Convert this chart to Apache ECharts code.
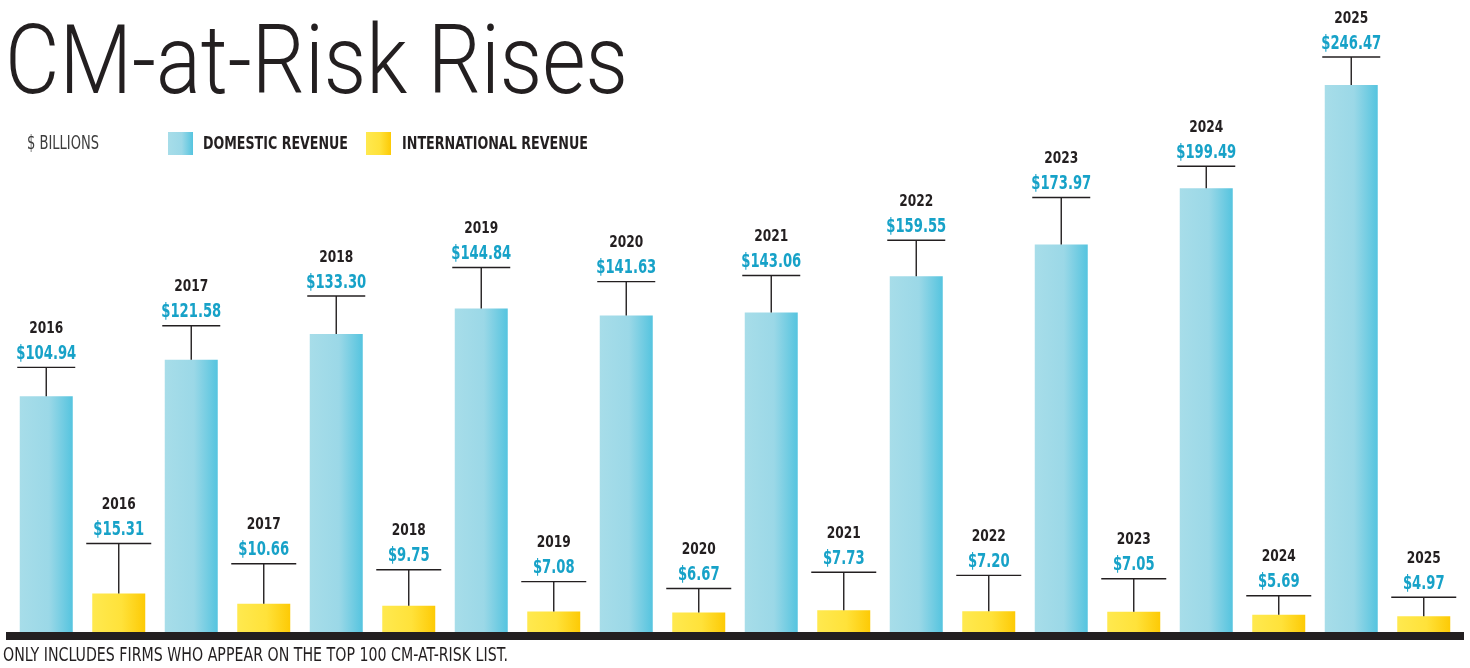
<!DOCTYPE html>
<html><head><meta charset="utf-8">
<script src="https://cdn.jsdelivr.net/npm/echarts@6/dist/echarts.min.js"></script>
<style>html,body{margin:0;padding:0;background:#fff;}#c{width:1470px;height:668px;}</style>
</head><body><div id="c"></div>
<script>
// ---- data ----
const years = ['2016','2017','2018','2019','2020','2021','2022','2023','2024','2025'];
const domestic = [104.94,121.58,133.30,144.84,141.63,143.06,159.55,173.97,199.49,246.47];
const international = [15.31,10.66,9.75,7.08,6.67,7.73,7.20,7.05,5.69,4.97];
const seriesNames = ['DOMESTIC REVENUE','INTERNATIONAL REVENUE'];
const titleText = 'CM-at-Risk Rises';
const unitText = '$ BILLIONS';
const footText = 'ONLY INCLUDES FIRMS WHO APPEAR ON THE TOP 100 CM-AT-RISK LIST.';

// ---- layout / style (leader-line lengths in px) ----
const leaderDomestic = [29,34,38,41,34,37,36,47,22,28];
const leaderInternational = [50,40,36,30,24,38,36,33,19,19];
const NARROW = "'Liberation Sans Narrow','Arial Narrow','DejaVu Sans Condensed',sans-serif";
const Y_MIN = -4, Y_MAX = 260;

const slots = [];
years.forEach(y => { slots.push(y + ' D'); slots.push(y + ' I'); });

const domGrad = new echarts.graphic.LinearGradient(0,0,1,0,[
  {offset:0,color:'#a7dde9'},{offset:0.55,color:'#9bd8e7'},{offset:1,color:'#55c4df'}]);
const intGrad = new echarts.graphic.LinearGradient(0,0,1,0,[
  {offset:0,color:'#ffe94f'},{offset:0.55,color:'#ffe23a'},{offset:1,color:'#fdca05'}]);

const measureCtx = document.createElement('canvas').getContext('2d');
function fitScale(text, font, target){
  measureCtx.font = font;
  return target / measureCtx.measureText(text).width;
}

const VAL_FONT = 'bold 19.5px ' + NARROW;
const YEAR_FONT = 'bold 16px ' + NARROW;
const valScale = fitScale('$104.94', VAL_FONT, 60);
const yearScale = fitScale('2016', YEAR_FONT, 34);

function makeRender(kind){
  const grad = kind === 0 ? domGrad : intGrad;
  const lineW = kind === 0 ? 58 : 65;
  return function(params, api){
    const slot = api.value(0), v = api.value(1), lead = api.value(2), yi = api.value(3);
    const top = api.coord([slot, v]);
    const base = api.coord([slot, Y_MIN]);
    const bw = api.size([1, 0])[0] * 0.731;
    const x = top[0];
    const ly = top[1] - lead;
    return {type:'group', children:[
      {type:'rect', shape:{x:x - bw/2, y:top[1], width:bw, height:base[1] - top[1]}, style:{fill:grad}},
      {type:'line', shape:{x1:x, y1:ly, x2:x, y2:top[1]}, style:{stroke:'#231f20', lineWidth:1.4}},
      {type:'line', shape:{x1:x - lineW/2, y1:ly, x2:x + lineW/2, y2:ly}, style:{stroke:'#231f20', lineWidth:1.4}},
      {type:'text', x:x, y:ly - 13.5, scaleX:valScale, style:{text:'$' + v.toFixed(2), fill:'#17a2c8', font:VAL_FONT, align:'center', verticalAlign:'middle'}},
      {type:'text', x:x, y:ly - 38.5, scaleX:yearScale, style:{text:years[yi], fill:'#231f20', font:YEAR_FONT, align:'center', verticalAlign:'middle'}}
    ]};
  };
}

const domData = domestic.map((v,i) => [2*i, v, leaderDomestic[i], i]);
const intData = international.map((v,i) => [2*i + 1, v, leaderInternational[i], i]);

const TITLE_FONT = '300 96px Roboto';
const FOOT_FONT = '19px ' + NARROW;
const UNIT_FONT = '20px ' + NARROW;
const LEG_FONT = 'bold 18px ' + NARROW;
const titleScale = fitScale(titleText, TITLE_FONT, 623);
const footScale = fitScale(footText, FOOT_FONT, 505);
const unitScale = fitScale(unitText, UNIT_FONT, 72);
const leg0Scale = fitScale(seriesNames[0], LEG_FONT, 145);
const leg1Scale = fitScale(seriesNames[1], LEG_FONT, 186);

const chart = echarts.init(document.getElementById('c'), null, {renderer:'canvas'});
chart.setOption({
  animation:false,
  backgroundColor:'#ffffff',
  grid:{left:10, right:10, top:55.2, bottom:32},
  xAxis:{type:'category', data:slots, z:10,
    axisLine:{show:true, onZero:false, lineStyle:{color:'#231f20', width:8, cap:'square'}},
    axisTick:{show:false}, axisLabel:{show:false}, splitLine:{show:false}},
  yAxis:{type:'value', min:Y_MIN, max:Y_MAX, show:false, splitLine:{show:false}},
  graphic:[
    {type:'text', x:5, y:69, scaleX:titleScale, style:{text:titleText, font:TITLE_FONT, fill:'#231f20', verticalAlign:'middle'}},
    {type:'text', x:27, y:143.5, scaleX:unitScale, style:{text:unitText, font:UNIT_FONT, fill:'#3d3d3d', verticalAlign:'middle'}},
    {type:'rect', shape:{x:168, y:132, width:25, height:23}, style:{fill:domGrad}},
    {type:'text', x:203, y:144, scaleX:leg0Scale, style:{text:seriesNames[0], font:LEG_FONT, fill:'#231f20', verticalAlign:'middle'}},
    {type:'rect', shape:{x:366, y:132, width:25, height:23}, style:{fill:intGrad}},
    {type:'text', x:402, y:144, scaleX:leg1Scale, style:{text:seriesNames[1], font:LEG_FONT, fill:'#231f20', verticalAlign:'middle'}},
    {type:'text', x:3, y:656, scaleX:footScale, style:{text:footText, font:FOOT_FONT, fill:'#231f20', verticalAlign:'middle'}}
  ],
  series:[
    {name:seriesNames[0], type:'custom', renderItem:makeRender(0), data:domData, encode:{x:0, y:1}, itemStyle:{color:domGrad}},
    {name:seriesNames[1], type:'custom', renderItem:makeRender(1), data:intData, encode:{x:0, y:1}, itemStyle:{color:intGrad}}
  ]
});
</script></body></html>
